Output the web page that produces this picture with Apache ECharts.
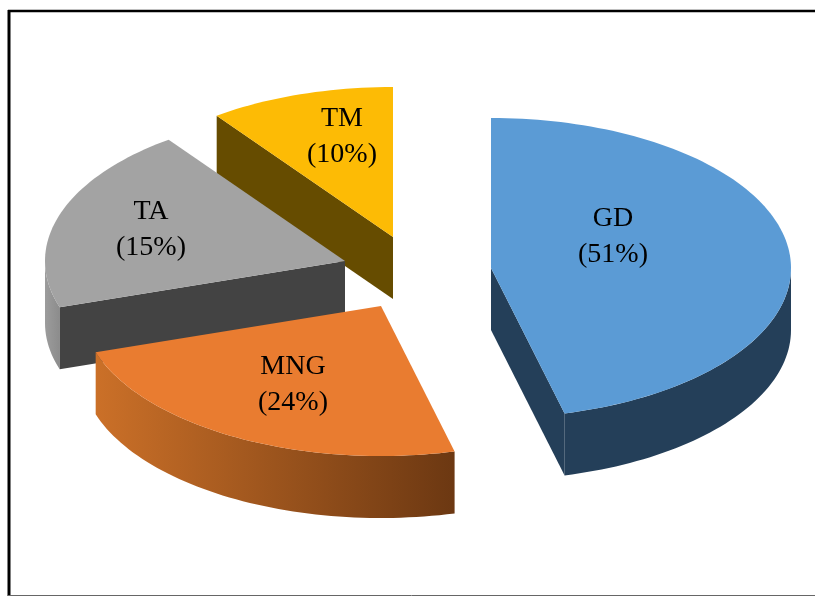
<!DOCTYPE html>
<html>
<head>
<meta charset="utf-8">
<style>html,body{margin:0;padding:0;background:#fff}#chart{width:815px;height:596px}</style>
<script src="https://cdn.jsdelivr.net/npm/echarts@6/dist/echarts.min.js"></script>
</head>
<body>
<div id="chart"></div>
<script>
// Share of each category, in percent, clockwise from the top of the disc.
const categories = ['GD', 'MNG', 'TA', 'TM'];
const shares = [51, 24, 15, 10];

// Colours per category: top surface, cut face, rim (left and right ends of its gradient).
const topColors = ['#5B9BD5', '#E97C30', '#A3A3A3', '#FDBB05'];
const faceColors = ['#243F59', '#6E3A12', '#434343', '#664C00'];
const rimColors = [['#243F59', '#243F59'], ['#CB7028', '#6C3812'], ['#9C9C9C', '#8C8C8C'], ['#664C00', '#664C00']];

// Exploded layout: where each slice's apex sits and where its caption is centred.
const apexes = [[491, 268], [381, 306], [345, 261], [393, 237]];
const captionCentres = [[613, 237], [293, 385], [151, 230], [342, 137]];
const drawOrder = [3, 2, 1, 0];

const RX = 300, RY = 150, DEPTH = 62;
const rad = Math.PI / 180;

// The disc is seen in uneven perspective, so equal shares do not span equal
// angles on screen. This maps a true angle to its foreshortened one.
function projected(deg) {
  const t = deg * rad;
  return deg + 9.887 * Math.sin(t) - 8.113 * (1 - Math.cos(t)) - 7.74 * Math.sin(2 * t);
}

function rimPoint(apex, deg, drop) {
  const t = deg * rad;
  return [apex[0] + RX * Math.sin(t), apex[1] - RY * Math.cos(t) + drop];
}

function arc(apex, from, to, drop) {
  const pts = [];
  const steps = Math.max(2, Math.ceil(Math.abs(to - from) / 1.5));
  for (let i = 0; i <= steps; i++) pts.push(rimPoint(apex, from + (to - from) * i / steps, drop));
  return pts;
}

const total = shares.reduce((a, b) => a + b, 0);
const spans = [];
shares.reduce((acc, v) => {
  const next = acc + v;
  spans.push([projected(acc / total * 360), projected(next / total * 360)]);
  return next;
}, 0);

function renderSlice(params) {
  const i = drawOrder[params.dataIndex];
  const apex = apexes[i];
  const [start, end] = spans[i];
  const children = [];
  const flat = { lineWidth: 0 };

  // Outer wall: only the part of the rim on the near half of the disc shows.
  const a = Math.max(start, 90), b = Math.min(end, 270);
  if (b > a) {
    const upper = arc(apex, a, b, 0);
    const lower = arc(apex, b, a, DEPTH);
    children.push({
      type: 'polygon',
      shape: { points: upper.concat(lower) },
      style: Object.assign({
        fill: new echarts.graphic.LinearGradient(0, 0, 1, 0, [
          { offset: 0, color: rimColors[i][0] },
          { offset: 1, color: rimColors[i][1] }
        ])
      }, flat)
    });
  }

  // Radial cut faces: visible only when they turn toward the viewer.
  const face = deg => {
    const p = rimPoint(apex, deg, 0);
    children.push({
      type: 'polygon',
      shape: { points: [apex, p, [p[0], p[1] + DEPTH], [apex[0], apex[1] + DEPTH]] },
      style: Object.assign({ fill: faceColors[i] }, flat)
    });
  };
  if (start > 180 && start < 360) face(start);
  if (end > 0 && end < 180) face(end);

  // Top surface.
  children.push({
    type: 'polygon',
    shape: { points: [apex].concat(arc(apex, start, end, 0)) },
    style: Object.assign({ fill: topColors[i] }, flat)
  });

  // Caption.
  children.push({
    type: 'text',
    x: captionCentres[i][0],
    y: captionCentres[i][1],
    style: {
      text: categories[i] + '\n(' + shares[i] + '%)',
      fill: '#000',
      font: '28px "Liberation Serif"',
      lineHeight: 36,
      align: 'center',
      verticalAlign: 'middle'
    }
  });

  return { type: 'group', children };
}

const chart = echarts.init(document.getElementById('chart'), null, { renderer: 'canvas' });
chart.setOption({
  animation: false,
  backgroundColor: '#ffffff',
  graphic: [
    { type: 'line', shape: { x1: 9, y1: 10, x2: 9, y2: 596 }, style: { stroke: '#000', lineWidth: 3 } },
    { type: 'line', shape: { x1: 8, y1: 11, x2: 815, y2: 11 }, style: { stroke: '#000', lineWidth: 2.5 } },
    { type: 'line', shape: { x1: 8, y1: 595.5, x2: 815, y2: 595.5 }, style: { stroke: '#666', lineWidth: 1 } }
  ],
  series: [{
    type: 'custom',
    coordinateSystem: 'none',
    renderItem: renderSlice,
    data: drawOrder.map(i => ({ name: categories[i], value: shares[i] })),
    silent: true
  }]
});
</script>
</body>
</html>
